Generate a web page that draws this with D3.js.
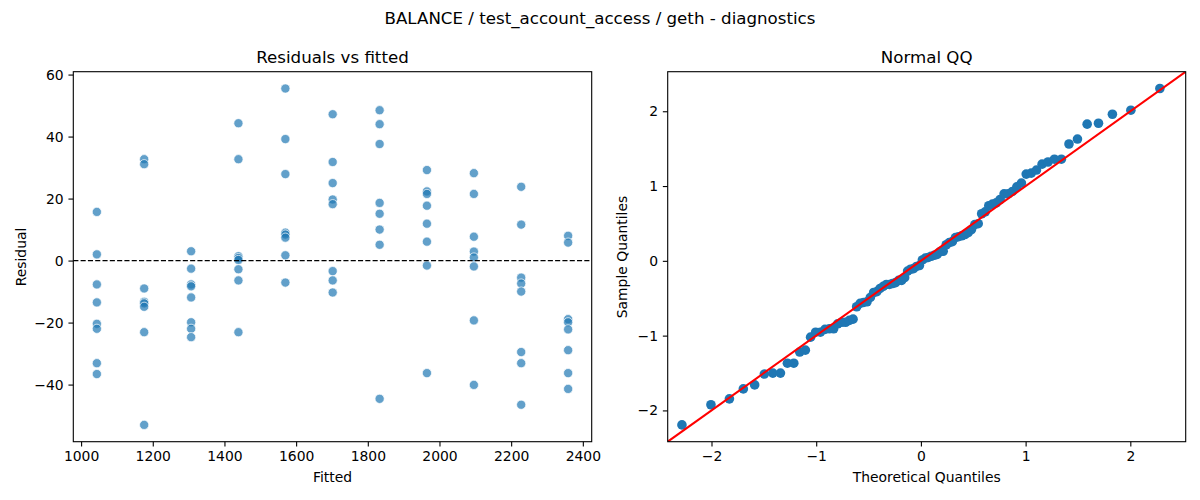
<!DOCTYPE html>
<html>
<head>
<meta charset="utf-8">
<script src="https://cdn.jsdelivr.net/npm/d3@7"></script>
<style>
  html, body { margin: 0; padding: 0; background: #fff; }
  svg { display: block; }
  text { font-family: "DejaVu Sans", sans-serif; fill: #000; }
</style>
</head>
<body>
<svg id="chart" width="1200" height="500"></svg>
<script>
// ---- Data ----
const suptitle = "BALANCE / test_account_access / geth - diagnostics";
const leftTitle = "Residuals vs fitted";
const rightTitle = "Normal QQ";

// fitted value of each group
const fitted = [1044, 1176, 1307, 1439, 1570, 1702, 1833, 1965, 2096, 2228, 2359];
// residuals of each group (same order as fitted)
const resid1044 = [15.7, 2.0, -7.7, -13.5, -20.4, -22.0, -33.1, -36.6];
const resid1176 = [32.7, 31.1, -9.0, -13.3, -13.8, -14.9, -23.1, -53.0];
const resid1307 = [3.0, -2.6, -7.7, -8.3, -11.9, -19.9, -22.0, -24.7];
const resid1439 = [44.3, 32.7, 1.4, 0.8, 0.2, -2.8, -6.4, -23.1];
const resid1570 = [55.5, 39.2, 27.9, 9.0, 8.4, 7.4, 1.7, -7.1];
const resid1702 = [47.2, 31.8, 25.0, 19.7, 18.2, -3.4, -6.4, -10.3];
const resid1833 = [48.5, 44.0, 37.6, 18.6, 15.1, 10.0, 5.1, -44.6];
const resid1965 = [29.2, 22.3, 21.5, 17.7, 11.9, 6.1, -1.6, -36.3];
const resid2096 = [28.2, 21.5, 7.7, 2.9, 1.0, -1.9, -19.3, -40.1];
const resid2228 = [23.8, 11.6, -5.5, -7.4, -10.0, -29.5, -33.1, -46.5];
const resid2359 = [8.0, 5.8, -18.9, -19.9, -22.2, -28.9, -36.3, -41.4];
const residualGroups = [resid1044, resid1176, resid1307, resid1439, resid1570, resid1702,
                        resid1833, resid1965, resid2096, resid2228, resid2359];

const leftXTicks = [1000, 1200, 1400, 1600, 1800, 2000, 2200, 2400];
const leftYTicks = [-40, -20, 0, 20, 40, 60];
const qqTicks = [-2, -1, 0, 1, 2];

// ---- Build point table ----
const points = [];
fitted.forEach((f, i) => residualGroups[i].forEach(r => points.push({ fitted: f, resid: r })));

// ---- QQ: sorted standardized residuals vs normal quantiles i/(n+1) ----
function normInv(p) {
  const a = [-3.969683028665376e+01, 2.209460984245205e+02, -2.759285104469687e+02, 1.383577518672690e+02, -3.066479806614716e+01, 2.506628277459239e+00];
  const b = [-5.447609879822406e+01, 1.615858368580409e+02, -1.556989798598866e+02, 6.680131188771972e+01, -1.328068155288572e+01];
  const c = [-7.784894002430293e-03, -3.223964580411365e-01, -2.400758277161838e+00, -2.549732539343734e+00, 4.374664141464968e+00, 2.938163982698783e+00];
  const d = [7.784695709041462e-03, 3.224671290700398e-01, 2.445134137142996e+00, 3.754408661907416e+00];
  const pl = 0.02425, ph = 1 - pl;
  let q, r;
  if (p < pl) { q = Math.sqrt(-2 * Math.log(p));
    return (((((c[0]*q+c[1])*q+c[2])*q+c[3])*q+c[4])*q+c[5]) / ((((d[0]*q+d[1])*q+d[2])*q+d[3])*q+1); }
  if (p > ph) { q = Math.sqrt(-2 * Math.log(1 - p));
    return -(((((c[0]*q+c[1])*q+c[2])*q+c[3])*q+c[4])*q+c[5]) / ((((d[0]*q+d[1])*q+d[2])*q+d[3])*q+1); }
  q = p - 0.5; r = q * q;
  return (((((a[0]*r+a[1])*r+a[2])*r+a[3])*r+a[4])*r+a[5])*q / (((((b[0]*r+b[1])*r+b[2])*r+b[3])*r+b[4])*r+1);
}
const allResid = points.map(p => p.resid);
const nObs = allResid.length;
const mu = d3.mean(allResid);
const sd = Math.sqrt(d3.mean(allResid, v => (v - mu) * (v - mu)));
const sortedStd = allResid.slice().sort(d3.ascending).map(v => (v - mu) / sd);
const qq = sortedStd.map((s, i) => ({ theo: normInv((i + 1) / (nObs + 1)), sample: s }));

// ---- Layout ----
const svg = d3.select("#chart");
svg.append("rect").attr("width", 1200).attr("height", 500).attr("fill", "#fff");
const plotTop = 71.7, plotBottom = 441.7;
const L = { x0: 73.3, x1: 591.7 };
const R = { x0: 667.7, x1: 1185.7 };
const tickLen = 4.86, tickPad = 4.86;
const fontTick = 13.9, fontTitle = 16.67;

function pad(ext, f = 0.05) { const d = ext[1] - ext[0]; return [ext[0] - d * f, ext[1] + d * f]; }

function styleAxis(g) {
  g.selectAll(".domain").remove();
  g.selectAll(".tick line").attr("stroke", "#000").attr("stroke-width", 1.1);
  g.selectAll(".tick text").attr("font-size", fontTick).attr("font-family", "DejaVu Sans").attr("fill", "#000");
}
function frame(x0, x1) {
  svg.append("rect").attr("x", x0).attr("y", plotTop).attr("width", x1 - x0).attr("height", plotBottom - plotTop)
    .attr("fill", "none").attr("stroke", "#000").attr("stroke-width", 1.1);
}

// ---- Left panel ----
const xL = d3.scaleLinear().domain(pad(d3.extent(fitted))).range([L.x0, L.x1]);
const yL = d3.scaleLinear().domain(pad(d3.extent(allResid))).range([plotBottom, plotTop]);

svg.append("clipPath").attr("id", "clipL").append("rect")
  .attr("x", L.x0).attr("y", plotTop).attr("width", L.x1 - L.x0).attr("height", plotBottom - plotTop);

svg.append("g").attr("transform", `translate(0,${plotBottom})`)
  .call(d3.axisBottom(xL).tickValues(leftXTicks).tickFormat(d3.format("d")).tickSizeInner(tickLen).tickSizeOuter(0).tickPadding(tickPad))
  .call(styleAxis);
svg.append("g").attr("transform", `translate(${L.x0},0)`)
  .call(d3.axisLeft(yL).tickValues(leftYTicks).tickFormat(d3.format("d")).tickSizeInner(tickLen).tickSizeOuter(0).tickPadding(tickPad))
  .call(styleAxis);

svg.append("g").attr("clip-path", "url(#clipL)")
  .selectAll("circle").data(points).join("circle")
  .attr("cx", d => xL(d.fitted)).attr("cy", d => yL(d.resid)).attr("r", 4.6)
  .attr("fill", "#1f77b4").attr("fill-opacity", 0.7)
  .attr("stroke", "#fff").attr("stroke-width", 1).attr("stroke-opacity", 0.7);

svg.append("line").attr("x1", L.x0).attr("x2", L.x1).attr("y1", yL(0)).attr("y2", yL(0))
  .attr("stroke", "#000").attr("stroke-width", 1.1).attr("stroke-dasharray", "5.1,2.2");

frame(L.x0, L.x1);

svg.append("text").attr("x", (L.x0 + L.x1) / 2).attr("y", 63.3).attr("text-anchor", "middle")
  .attr("font-size", fontTitle).text(leftTitle);
svg.append("text").attr("x", (L.x0 + L.x1) / 2).attr("y", 482).attr("text-anchor", "middle")
  .attr("font-size", fontTick).text("Fitted");
svg.append("text").attr("transform", "translate(26,257) rotate(-90)").attr("text-anchor", "middle")
  .attr("font-size", fontTick).text("Residual");

// ---- Right panel ----
const qqDomain = pad(d3.extent(sortedStd));
const xR = d3.scaleLinear().domain(qqDomain).range([R.x0, R.x1]);
const yR = d3.scaleLinear().domain(qqDomain).range([plotBottom, plotTop]);

svg.append("clipPath").attr("id", "clipR").append("rect")
  .attr("x", R.x0).attr("y", plotTop).attr("width", R.x1 - R.x0).attr("height", plotBottom - plotTop);

svg.append("g").attr("transform", `translate(0,${plotBottom})`)
  .call(d3.axisBottom(xR).tickValues(qqTicks).tickFormat(d3.format("d")).tickSizeInner(tickLen).tickSizeOuter(0).tickPadding(tickPad))
  .call(styleAxis);
svg.append("g").attr("transform", `translate(${R.x0},0)`)
  .call(d3.axisLeft(yR).tickValues(qqTicks).tickFormat(d3.format("d")).tickSizeInner(tickLen).tickSizeOuter(0).tickPadding(tickPad))
  .call(styleAxis);

const gR = svg.append("g").attr("clip-path", "url(#clipR)");
gR.selectAll("circle").data(qq).join("circle")
  .attr("cx", d => xR(d.theo)).attr("cy", d => yR(d.sample)).attr("r", 4.8)
  .attr("fill", "#1f77b4");
gR.append("line")
  .attr("x1", xR(qqDomain[0])).attr("y1", yR(qqDomain[0]))
  .attr("x2", xR(qqDomain[1])).attr("y2", yR(qqDomain[1]))
  .attr("stroke", "red").attr("stroke-width", 2.08);

frame(R.x0, R.x1);

svg.append("text").attr("x", (R.x0 + R.x1) / 2).attr("y", 63.3).attr("text-anchor", "middle")
  .attr("font-size", fontTitle).text(rightTitle);
svg.append("text").attr("x", (R.x0 + R.x1) / 2).attr("y", 482).attr("text-anchor", "middle")
  .attr("font-size", fontTick).text("Theoretical Quantiles");
svg.append("text").attr("transform", `translate(627,257) rotate(-90)`).attr("text-anchor", "middle")
  .attr("font-size", fontTick).text("Sample Quantiles");

// ---- Figure title ----
svg.append("text").attr("x", 600).attr("y", 24).attr("text-anchor", "middle")
  .attr("font-size", fontTitle).text(suptitle);
</script>
</body>
</html>
